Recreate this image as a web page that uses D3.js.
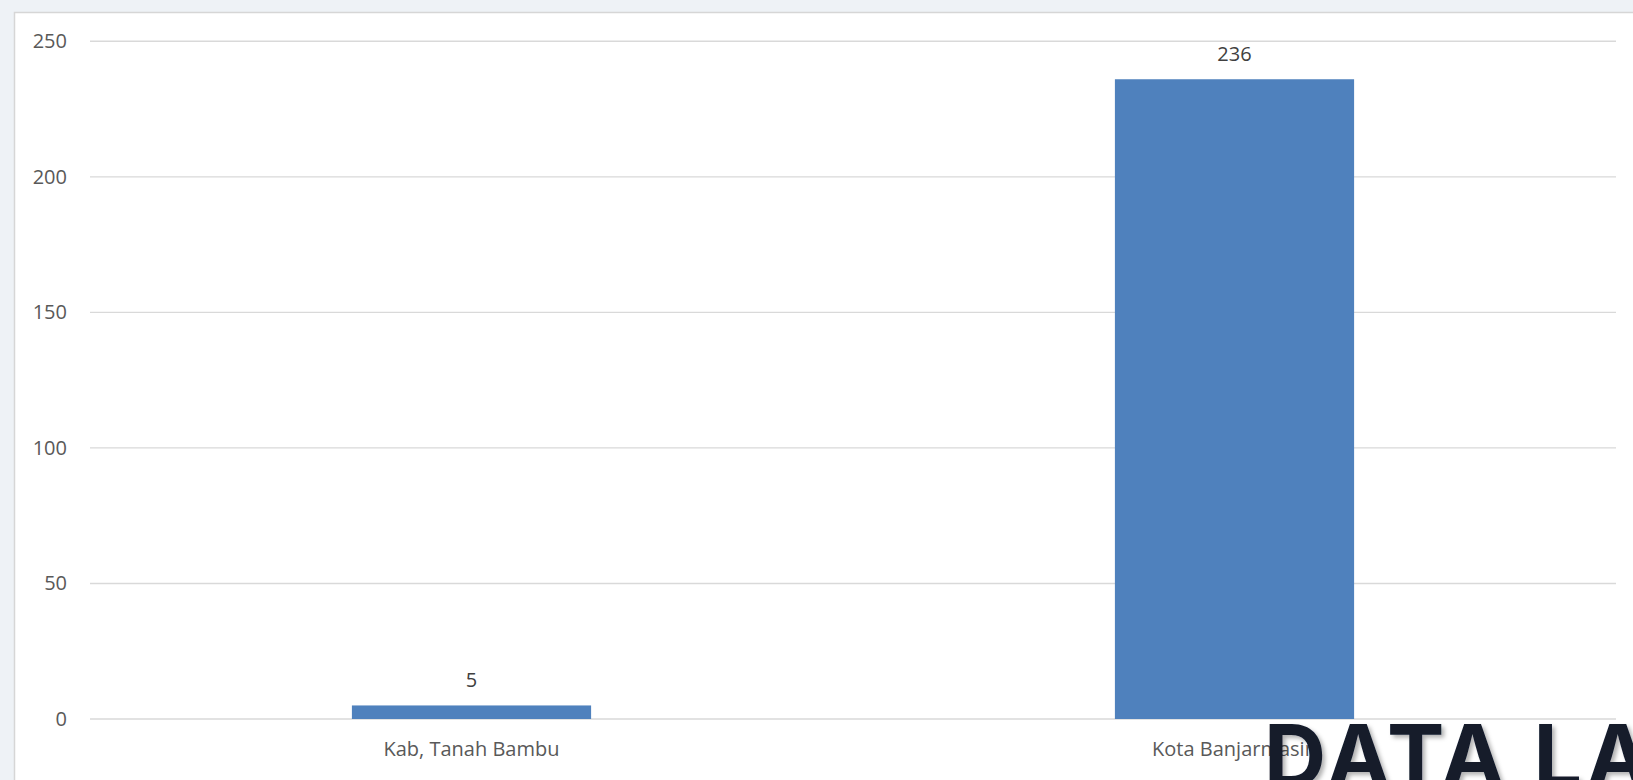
<!DOCTYPE html>
<html>
<head>
<meta charset="utf-8">
<script src="https://cdn.jsdelivr.net/npm/d3@7/dist/d3.min.js"></script>
<style>
  html, body { margin: 0; padding: 0; background: #eef2f6; }
  svg { display: block; }
</style>
</head>
<body>
<svg id="chart" width="1633" height="780"></svg>
<script>
const categories = ["Kab, Tanah Bambu", "Kota Banjarmasin"];
const values = [5, 236];
const yTicks = [0, 50, 100, 150, 200, 250];
const watermarkText = "DATA LA";

const W = 1633, H = 780;
const svg = d3.select("#chart");

// background
svg.append("rect").attr("x", 0).attr("y", 0).attr("width", W).attr("height", H).attr("fill", "#eef2f6");
// chart panel
svg.append("rect").attr("x", 14.5).attr("y", 12.5).attr("width", W).attr("height", H)
  .attr("fill", "#ffffff").attr("stroke", "#d6d6d6").attr("stroke-width", 1.5);

const plot = { left: 90, right: 1616, top: 41.3, bottom: 719 };

const y = d3.scaleLinear().domain([0, 250]).range([plot.bottom, plot.top]);
const x = d3.scaleBand().domain(categories).range([plot.left, plot.right]).padding(0);
const barW = x.bandwidth() * 0.3135;

// gridlines
svg.append("g").selectAll("line").data(yTicks).join("line")
  .attr("x1", plot.left).attr("x2", plot.right)
  .attr("y1", d => y(d)).attr("y2", d => y(d))
  .attr("stroke", "#d9d9d9").attr("stroke-width", 1.4);

// y tick labels
svg.append("g").selectAll("text").data(yTicks).join("text")
  .attr("x", 67).attr("y", d => y(d)).attr("dy", "0.35em")
  .attr("text-anchor", "end")
  .attr("font-family", "'Open Sans', sans-serif").attr("font-size", 20)
  .attr("fill", "#595959")
  .text(d => d);

const data = categories.map((c, i) => ({ c, v: values[i] }));

// bars
svg.append("g").selectAll("rect").data(data).join("rect")
  .attr("x", d => x(d.c) + x.bandwidth() / 2 - barW / 2)
  .attr("width", barW)
  .attr("y", d => y(d.v))
  .attr("height", d => y(0) - y(d.v))
  .attr("fill", "#4f81bd");

// value labels
svg.append("g").selectAll("text").data(data).join("text")
  .attr("x", d => x(d.c) + x.bandwidth() / 2)
  .attr("y", d => y(d.v) - 18)
  .attr("text-anchor", "middle")
  .attr("font-family", "'Open Sans', sans-serif").attr("font-size", 20)
  .attr("fill", "#404040")
  .text(d => d.v);

// category labels
svg.append("g").selectAll("text").data(categories).join("text")
  .attr("x", d => x(d) + x.bandwidth() / 2)
  .attr("y", 756)
  .attr("text-anchor", "middle")
  .attr("font-family", "'Open Sans', sans-serif").attr("font-size", 20)
  .attr("fill", "#595959")
  .text(d => d);

// watermark
const defs = svg.append("defs");
const f = defs.append("filter").attr("id", "shadow").attr("x", "-10%").attr("y", "-10%").attr("width", "130%").attr("height", "130%");
f.append("feDropShadow").attr("dx", 3).attr("dy", 3).attr("stdDeviation", 2)
  .attr("flood-color", "#000").attr("flood-opacity", 0.3);

svg.append("text")
  .attr("x", 1264).attr("y", 787)
  .attr("font-family", "Inter, sans-serif").attr("font-weight", 700)
  .attr("font-size", 86)
  .attr("letter-spacing", 4)
  .attr("fill", "#121a2c")
  .attr("filter", "url(#shadow)")
  .text(watermarkText);
</script>
</body>
</html>
